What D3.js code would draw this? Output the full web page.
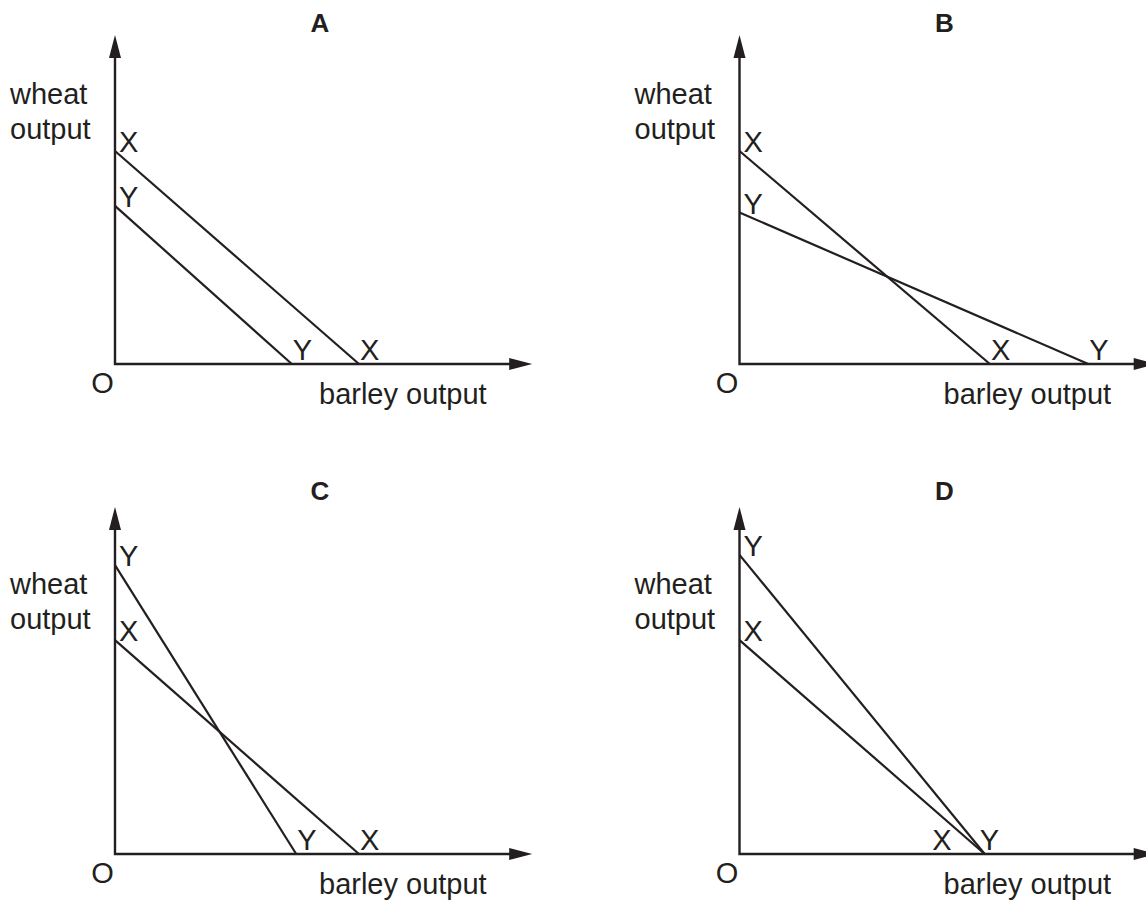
<!DOCTYPE html>
<html>
<head>
<meta charset="utf-8">
<script src="https://cdn.jsdelivr.net/npm/d3@7"></script>
<style>
  body { margin: 0; background: #fff; }
  svg { display: block; }
  text { font-family: "Liberation Sans", Arial, sans-serif; fill: #231f20; }
</style>
</head>
<body>
<svg id="chart" width="1146" height="901"></svg>
<script>
// panels and the two production possibility curves in each
var panels = ["A", "B", "C", "D"];
var curveNames = ["X", "Y"];

// where each curve meets the wheat (vertical) axis
var wheatX = [71, 71, 71.3, 71.3];
var wheatY = [52.7, 50.5, 96.3, 99.7];
// where each curve meets the barley (horizontal) axis
var barleyX = [61, 62.6, 61, 61.3];
var barleyY = [44.2, 87.2, 45.3, 61.3];

// axis extents (to arrow tips)
var barleyMax = [104.3, 104.3, 104.3, 104.3];
var wheatMax = [109.7, 109.7, 115.7, 115.7];

var yLabel = ["wheat", "output"];
var xLabel = "barley output";
var originLabel = "O";

var svg = d3.select("#chart");
var ink = "#231f20";
var fontSize = 29;

var colX = [115, 739.5],
    rowY = [364, 854],
    titleY = [32, 500];

var arrowLen = 23, arrowHalf = 6;

var line = d3.line()
    .x(function (d) { return d.x; })
    .y(function (d) { return d.y; });

panels.forEach(function (name, i) {
    var ox = colX[i % 2],
        oy = rowY[Math.floor(i / 2)];

    var x = d3.scaleLinear().domain([0, 100]).range([ox, ox + 400]);
    var y = d3.scaleLinear().domain([0, 100]).range([oy, oy - 300]);

    var g = svg.append("g").attr("class", "panel panel-" + name);

    // axes
    var xTip = x(barleyMax[i]), yTip = y(wheatMax[i]);

    g.append("path")
        .attr("d", line([
            { x: x(0), y: yTip + arrowLen - 1 },
            { x: x(0), y: y(0) },
            { x: xTip - arrowLen + 1, y: y(0) }
        ]))
        .attr("fill", "none")
        .attr("stroke", ink)
        .attr("stroke-width", 2.4);

    g.append("path")
        .attr("d", line([
            { x: x(0), y: yTip },
            { x: x(0) - arrowHalf, y: yTip + arrowLen },
            { x: x(0) + arrowHalf, y: yTip + arrowLen }
        ]) + "Z")
        .attr("fill", ink);

    g.append("path")
        .attr("d", line([
            { x: xTip, y: y(0) },
            { x: xTip - arrowLen, y: y(0) - arrowHalf },
            { x: xTip - arrowLen, y: y(0) + arrowHalf }
        ]) + "Z")
        .attr("fill", ink);

    // curves
    var curves = [
        { name: curveNames[0], wheat: wheatX[i], barley: barleyX[i] },
        { name: curveNames[1], wheat: wheatY[i], barley: barleyY[i] }
    ];
    var same = Math.abs(curves[0].barley - curves[1].barley) < 1;

    g.selectAll("path.curve")
        .data(curves)
        .enter().append("path")
        .attr("class", "curve")
        .attr("d", function (d) {
            return line([
                { x: x(0), y: y(d.wheat) },
                { x: x(d.barley), y: y(0) }
            ]);
        })
        .attr("fill", "none")
        .attr("stroke", ink)
        .attr("stroke-width", 2.2);

    // curve labels on the wheat axis
    g.selectAll("text.top-label")
        .data(curves)
        .enter().append("text")
        .attr("class", "top-label")
        .attr("x", x(0) + 4)
        .attr("y", function (d) { return y(d.wheat) + 1; })
        .attr("font-size", fontSize)
        .text(function (d) { return d.name; });

    // curve labels on the barley axis
    g.selectAll("text.bottom-label")
        .data(curves)
        .enter().append("text")
        .attr("class", "bottom-label")
        .attr("x", function (d, j) {
            if (same) return j === 0 ? x(d.barley) - 33 : x(d.barley) - 5;
            return x(d.barley) + 1;
        })
        .attr("text-anchor", function (d, j) { return same && j === 0 ? "end" : "start"; })
        .attr("y", y(0) - 4)
        .attr("font-size", fontSize)
        .text(function (d) { return d.name; });

    // axis titles
    g.selectAll("text.y-title")
        .data(yLabel)
        .enter().append("text")
        .attr("class", "y-title")
        .attr("x", x(0) - 105)
        .attr("y", function (d, j) { return y(0) - 260 + j * 35; })
        .attr("font-size", fontSize)
        .text(function (d) { return d; });

    g.append("text")
        .attr("x", x(0) + 204)
        .attr("y", y(0) + 40)
        .attr("font-size", fontSize)
        .text(xLabel);

    g.append("text")
        .attr("x", x(0) - 12.5)
        .attr("y", y(0) + 29)
        .attr("text-anchor", "middle")
        .attr("font-size", fontSize)
        .text(originLabel);

    // panel letter
    g.append("text")
        .attr("x", x(0) + 205)
        .attr("y", titleY[Math.floor(i / 2)])
        .attr("text-anchor", "middle")
        .attr("font-size", 26)
        .attr("font-weight", "bold")
        .text(name);
});
</script>
</body>
</html>
